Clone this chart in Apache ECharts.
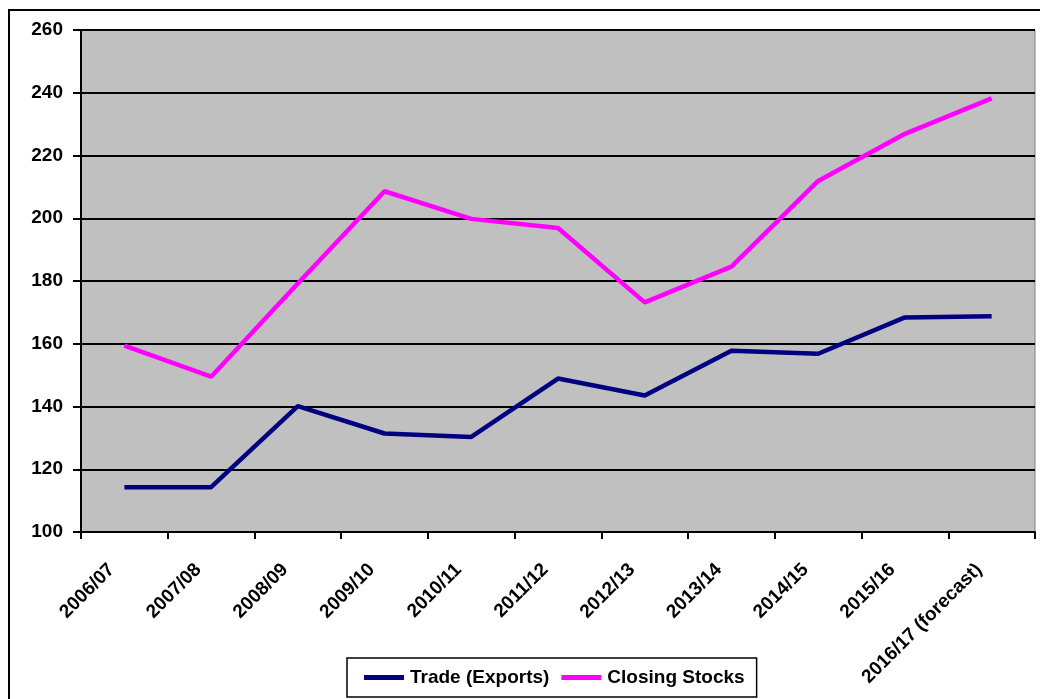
<!DOCTYPE html>
<html>
<head>
<meta charset="utf-8">
<script src="https://cdn.jsdelivr.net/npm/echarts@6/dist/echarts.min.js"></script>
<style>
html,body{margin:0;padding:0;background:#fff;}
#chart{width:1040px;height:699px;}
</style>
</head>
<body>
<div id="chart"></div>
<script>
const categories = ['2006/07','2007/08','2008/09','2009/10','2010/11','2011/12','2012/13','2013/14','2014/15','2015/16','2016/17 (forecast)'];
const tradeExports = [114.3, 114.3, 140.1, 131.4, 130.3, 148.9, 143.5, 157.8, 156.8, 168.4, 168.8];
const closingStocks = [159.4, 149.5, 179.2, 208.6, 199.8, 196.9, 173.2, 184.6, 211.9, 226.9, 238.2];
const yTicks = {min: 100, max: 260, interval: 20};

const chart = echarts.init(document.getElementById('chart'));
const font = '"Liberation Sans", Arial, sans-serif';
chart.setOption({
  animation: false,
  textStyle: {fontFamily: font},
  graphic: [{
    type: 'rect', z: -10,
    shape: {x: 9, y: 10, width: 1040, height: 700},
    style: {fill: 'none', stroke: '#000', lineWidth: 2}
  }],
  grid: {
    left: 81, right: 5, top: 30, bottom: 167,
    show: true, backgroundColor: '#C0C0C0', borderColor: '#808080', borderWidth: 1
  },
  legend: {
    left: 347, top: 658,
    padding: [10, 12, 10, 17],
    borderColor: '#000', borderWidth: 1.5,
    backgroundColor: '#fff',
    itemWidth: 40, itemHeight: 5, itemGap: 12,
    icon: 'rect',
    textStyle: {fontFamily: font, fontWeight: 'bold', fontSize: 19, color: '#000', padding: [0, 0, 0, 1]},
    data: ['Trade (Exports)', 'Closing Stocks']
  },
  xAxis: {
    type: 'category',
    data: categories,
    boundaryGap: true,
    axisLine: {lineStyle: {color: '#000', width: 2}},
    axisTick: {show: true, length: 7, lineStyle: {color: '#000', width: 2}},
    axisLabel: {
      rotate: 45, interval: 0, margin: 22,
      padding: [0, 18, 0, 0],
      color: '#000', fontWeight: 'bold', fontSize: 19, fontFamily: font
    }
  },
  yAxis: {
    type: 'value',
    min: yTicks.min, max: yTicks.max, interval: yTicks.interval,
    axisLine: {show: true, lineStyle: {color: '#000', width: 2}},
    axisTick: {show: true, length: 8, lineStyle: {color: '#000', width: 2}},
    axisLabel: {margin: 18, color: '#000', fontWeight: 'bold', fontSize: 19, fontFamily: font},
    splitLine: {show: true, lineStyle: {color: '#000', width: 2}}
  },
  series: [
    {
      name: 'Trade (Exports)', type: 'line', data: tradeExports,
      symbol: 'none', color: '#000080',
      lineStyle: {color: '#000080', width: 4.5}
    },
    {
      name: 'Closing Stocks', type: 'line', data: closingStocks,
      symbol: 'none', color: '#FF00FF',
      lineStyle: {color: '#FF00FF', width: 4.5}
    }
  ]
});
</script>
</body>
</html>
